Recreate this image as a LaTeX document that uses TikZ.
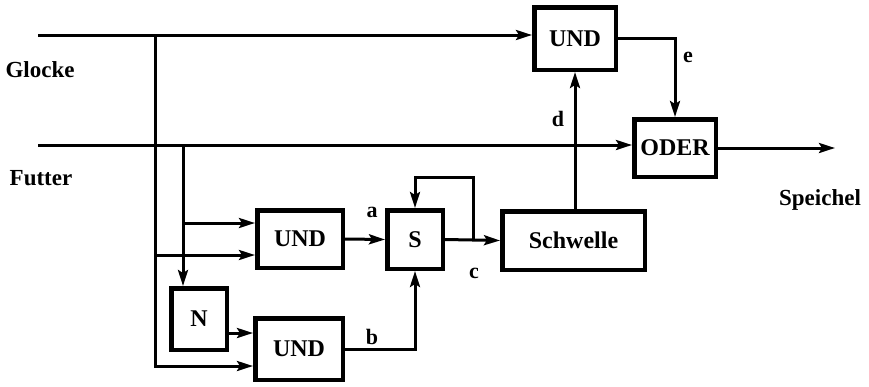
\documentclass[tikz,border=0pt]{standalone}
\usepackage{fontspec}
\setmainfont{Liberation Serif}
\usetikzlibrary{arrows.meta}
\begin{document}
\begin{tikzpicture}[x=1pt,y=-1pt,
 box/.style={draw,line width=4.5pt,inner sep=0pt,font=\bfseries\fontsize{24}{24}\selectfont},
 wire/.style={line width=3pt},
 arr/.style={wire,-{Stealth[length=16pt,width=10pt,inset=3pt]}},
 lab/.style={inner sep=0pt,font=\bfseries\fontsize{23}{23}\selectfont},
 sl/.style={inner sep=0pt,font=\bfseries\fontsize{22}{22}\selectfont}]
\useasboundingbox (0,0) rectangle (869,386);
% boxes
\node[box,minimum width=81.5pt,minimum height=62.5pt] (und0) at (575,38.5) {UND};
\node[box,minimum width=81.5pt,minimum height=57.5pt] (oder) at (675,148) {ODER};
\node[box,minimum width=85.5pt,minimum height=57.5pt] (und1) at (300,239) {UND};
\node[box,minimum width=87.5pt,minimum height=61.5pt] (und2) at (299,349) {UND};
\node[box,minimum width=55.5pt,minimum height=61.5pt] (n) at (199,319) {N};
\node[box,minimum width=55.5pt,minimum height=58.5pt] (s) at (415,239.5) {S};
\node[box,minimum width=142.5pt,minimum height=58.5pt] (schw) at (573.5,240.5) {Schwelle};
% labels
\node[lab] (glocke) at (40,70) {Glocke};
\node[lab] (futter) at (41,178) {Futter};
\node[lab] (speichel) at (820,200) {Speichel};
\node[sl] (la) at (372,212) {a};
\node[sl] (lb) at (372,337) {b};
\node[sl] (lc) at (474,273) {c};
\node[sl] (ld) at (558,119) {d};
\node[sl] (le) at (688,57) {e};
% coordinates
\coordinate (g0) at (38,35);
\coordinate (gj) at (155,35);
\coordinate (f0) at (38,145);
\coordinate (fj) at (183,145);
\coordinate (fb) at (473,177);
\coordinate (out) at (835,148);
% wires
\draw[arr] (g0) -- (g0 -| und0.west);
\draw[arr] (f0) -- (f0 -| oder.west);
\draw[arr] (gj) |- ([yshift=-17pt]und2.west);
\draw[arr] (fj) -- (fj |- n.north);
\draw[arr] ([yshift=16pt]und1.west -| fj) -- ([yshift=16pt]und1.west);
\draw[arr] ([yshift=-16pt]und1.west -| gj) -- ([yshift=-16pt]und1.west);
\draw[arr] ([yshift=-14pt]n.east) -- ([yshift=-14pt]n.east -| und2.west);
\draw[arr] (und2.east) -| (s.south);
\draw[arr] (und1.east) -- (s.west);
\draw[arr] (s.east) -- (schw.west);
\draw[arr] (s.east -| fb) -- (fb) -| (s.north);
\draw[arr] (schw.north -| und0.south) -- (und0.south);
\draw[arr] (und0.east) -| (oder.north);
\draw[arr] (oder.east) -- (out);
\end{tikzpicture}
\end{document}
